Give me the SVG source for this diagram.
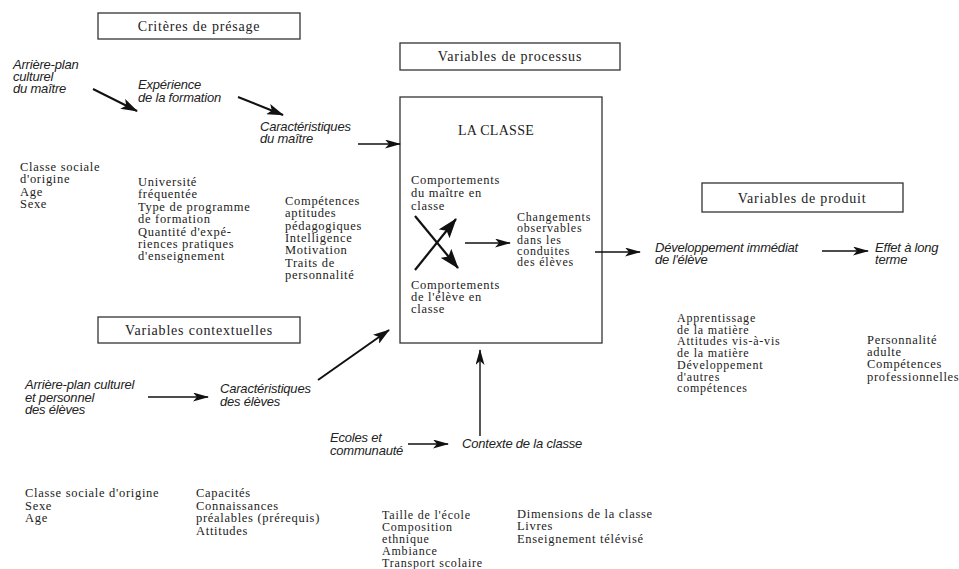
<svg xmlns="http://www.w3.org/2000/svg" width="959" height="569" viewBox="0 0 959 569">
<defs>
<style>
.box{fill:none;stroke:#333;stroke-width:1.3}
.hdr{font-family:"Liberation Serif",serif;font-size:14px;letter-spacing:0.8px;text-anchor:middle;fill:#222}
.lst{font-family:"Liberation Serif",serif;font-size:12.5px;letter-spacing:0.7px;fill:#222}
.sm{font-size:12px;letter-spacing:0.8px}
.it{font-family:"Liberation Sans",sans-serif;font-style:italic;font-size:13px;letter-spacing:-0.2px;fill:#222}
.c{stroke:#111;stroke-width:1.4;fill:none;marker-end:url(#ah)}
.t{stroke-width:2;marker-end:url(#ahm)}
.x{stroke-width:2.2;marker-end:url(#ahb)}
</style>
<marker id="ah" markerUnits="userSpaceOnUse" markerWidth="16" markerHeight="9" refX="15" refY="4.5" orient="auto" viewBox="0 0 16 9">
<path d="M0,0 L16,4.5 L0,9 L4,4.5 z" fill="#111"/>
</marker>
<marker id="ahm" markerUnits="userSpaceOnUse" markerWidth="17" markerHeight="11" refX="16" refY="5.5" orient="auto" viewBox="0 0 17 11">
<path d="M0,0 L17,5.5 L0,11 L4,5.5 z" fill="#111"/>
</marker>
<marker id="ahb" markerUnits="userSpaceOnUse" markerWidth="20" markerHeight="14" refX="19" refY="7" orient="auto" viewBox="0 0 20 14">
<path d="M0,0 L20,7 L0,14 L4,7 z" fill="#111"/>
</marker>
</defs>
<rect width="959" height="569" fill="#fff"/>

<g id="criteres-presage">
<rect class="box" x="98" y="13" width="202" height="26"/>
<text class="hdr" x="199" y="31">Critères de présage</text>
</g>
<g id="variables-processus">
<rect class="box" x="400" y="43" width="220" height="27"/>
<text class="hdr" x="510" y="61">Variables de processus</text>
</g>
<g id="variables-produit">
<rect class="box" x="702" y="183" width="201" height="29"/>
<text class="hdr" x="802" y="203">Variables de produit</text>
</g>
<g id="variables-contextuelles">
<rect class="box" x="98" y="317" width="202" height="26"/>
<text class="hdr" x="199" y="335">Variables contextuelles</text>
</g>

<g id="la-classe">
<rect class="box" x="400" y="97" width="202" height="246"/>
<text class="hdr" x="496" y="135" style="letter-spacing:0.3px">LA CLASSE</text>
<text class="lst" x="411" y="184">Comportements<tspan x="411" dy="13">du maître en</tspan><tspan x="411" dy="13">classe</tspan></text>
<text class="lst" x="411" y="289">Comportements<tspan x="411" dy="12">de l'élève en</tspan><tspan x="411" dy="12">classe</tspan></text>
<text class="lst sm" x="517" y="221">Changements<tspan x="517" dy="11.3">observables</tspan><tspan x="517" dy="11.3">dans les</tspan><tspan x="517" dy="11.3">conduites</tspan><tspan x="517" dy="11.3">des élèves</tspan></text>
</g>

<g id="arriere-plan-maitre">
<text class="it" x="13" y="69">Arrière-plan<tspan x="13" dy="12">culturel</tspan><tspan x="13" dy="12">du maître</tspan></text>
</g>
<g id="experience-formation">
<text class="it" x="138" y="89">Expérience<tspan x="138" dy="13">de la formation</tspan></text>
</g>
<g id="caracteristiques-maitre">
<text class="it" x="260" y="131">Caractéristiques<tspan x="260" dy="12">du maître</tspan></text>
</g>
<g id="liste-maitre-origine">
<text class="lst" x="20" y="171">Classe sociale<tspan x="20" dy="12.3">d'origine</tspan><tspan x="20" dy="12.3">Age</tspan><tspan x="20" dy="12.3">Sexe</tspan></text>
</g>
<g id="liste-formation">
<text class="lst" x="138" y="186">Université<tspan x="138" dy="12.4">fréquentée</tspan><tspan x="138" dy="12.4">Type de programme</tspan><tspan x="138" dy="12.4">de formation</tspan><tspan x="138" dy="12.4">Quantité d'expé-</tspan><tspan x="138" dy="12.4">riences pratiques</tspan><tspan x="138" dy="12.4">d'enseignement</tspan></text>
</g>
<g id="liste-caracteristiques-maitre">
<text class="lst" x="285" y="205">Compétences<tspan x="285" dy="12.3">aptitudes</tspan><tspan x="285" dy="12.3">pédagogiques</tspan><tspan x="285" dy="12.3">Intelligence</tspan><tspan x="285" dy="12.3">Motivation</tspan><tspan x="285" dy="12.3">Traits de</tspan><tspan x="285" dy="12.3">personnalité</tspan></text>
</g>

<g id="developpement-immediat">
<text class="it" x="655" y="252">Développement immédiat<tspan x="655" dy="12">de l'élève</tspan></text>
</g>
<g id="effet-long-terme">
<text class="it" x="875" y="252">Effet à long<tspan x="875" dy="12">terme</tspan></text>
</g>
<g id="liste-developpement">
<text class="lst sm" x="677" y="322">Apprentissage<tspan x="677" dy="11.7">de la matière</tspan><tspan x="677" dy="11.7">Attitudes vis-à-vis</tspan><tspan x="677" dy="11.7">de la matière</tspan><tspan x="677" dy="11.7">Développement</tspan><tspan x="677" dy="11.7">d'autres</tspan><tspan x="677" dy="11.7">compétences</tspan></text>
</g>
<g id="liste-long-terme">
<text class="lst" x="867" y="344">Personnalité<tspan x="867" dy="12.2">adulte</tspan><tspan x="867" dy="12.2">Compétences</tspan><tspan x="867" dy="12.2">professionnelles</tspan></text>
</g>

<g id="arriere-plan-eleves">
<text class="it" x="25" y="389">Arrière-plan culturel<tspan x="25" dy="12.5">et personnel</tspan><tspan x="25" dy="12.5">des élèves</tspan></text>
</g>
<g id="caracteristiques-eleves">
<text class="it" x="220" y="393">Caractéristiques<tspan x="220" dy="13">des élèves</tspan></text>
</g>
<g id="ecoles-communaute">
<text class="it" x="330" y="442">Ecoles et<tspan x="330" dy="13">communauté</tspan></text>
</g>
<g id="contexte-classe">
<text class="it" x="462" y="448">Contexte de la classe</text>
</g>
<g id="liste-eleves-origine">
<text class="lst" x="25" y="497">Classe sociale d'origine<tspan x="25" dy="12.5">Sexe</tspan><tspan x="25" dy="12.5">Age</tspan></text>
</g>
<g id="liste-caracteristiques-eleves">
<text class="lst" x="196" y="497">Capacités<tspan x="196" dy="12.6">Connaissances</tspan><tspan x="196" dy="12.6">préalables (prérequis)</tspan><tspan x="196" dy="12.6">Attitudes</tspan></text>
</g>
<g id="liste-ecoles">
<text class="lst sm" x="382" y="519">Taille de l'école<tspan x="382" dy="12">Composition</tspan><tspan x="382" dy="12">ethnique</tspan><tspan x="382" dy="12">Ambiance</tspan><tspan x="382" dy="12">Transport scolaire</tspan></text>
</g>
<g id="liste-contexte">
<text class="lst" x="517" y="518">Dimensions de la classe<tspan x="517" dy="12.3">Livres</tspan><tspan x="517" dy="12.3">Enseignement télévisé</tspan></text>
</g>

<g id="connectors">
<line class="c t" x1="93" y1="89" x2="137" y2="111"/>
<line class="c t" x1="238" y1="97" x2="283" y2="115"/>
<line class="c" x1="358" y1="144" x2="400" y2="144"/>
<line class="c x" x1="415" y1="270" x2="456" y2="219"/>
<line class="c x" x1="415" y1="216" x2="458" y2="268"/>
<line class="c" x1="465" y1="243" x2="510" y2="243"/>
<line class="c" x1="595" y1="252" x2="640" y2="252"/>
<line class="c" x1="822" y1="251" x2="868" y2="251"/>
<line class="c" x1="148" y1="397" x2="208" y2="397"/>
<line class="c t" x1="318" y1="380" x2="389" y2="330"/>
<line class="c" x1="480" y1="436" x2="480" y2="350"/>
<line class="c" x1="408" y1="444" x2="448" y2="444"/>
</g>
</svg>
